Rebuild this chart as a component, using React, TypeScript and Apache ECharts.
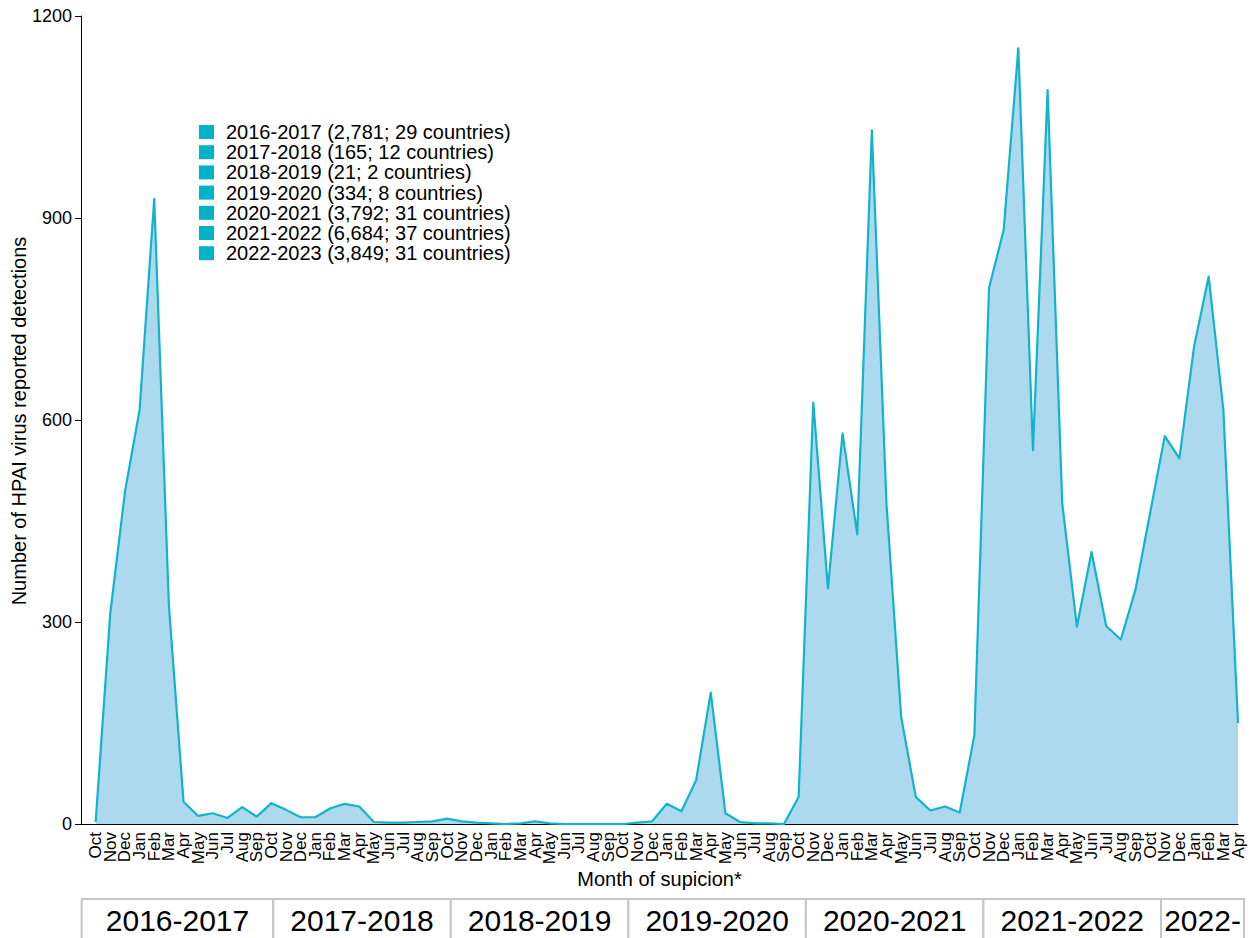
import React, { useEffect, useRef } from "react";
import * as echarts from "echarts";

// Month tick labels (one season: Oct..Sep)
const seasonMonths = ["Oct", "Nov", "Dec", "Jan", "Feb", "Mar", "Apr", "May", "Jun", "Jul", "Aug", "Sep"];

// Monthly HPAI reported detections per epidemiological season
const s2016 = [3, 313, 493, 615, 928, 325, 33, 12, 16, 9, 25, 11];
const s2017 = [31, 21, 10, 10, 23, 30, 26, 3, 2, 2, 3, 4];
const s2018 = [8, 4, 2, 1, 0, 1, 4, 1, 0, 0, 0, 0];
const s2019 = [0, 2, 4, 30, 19, 65, 195, 16, 3, 1, 1, 0];
const s2020 = [40, 626, 350, 580, 430, 1030, 475, 159, 40, 20, 26, 17];
const s2021 = [132, 796, 882, 1152, 555, 1090, 476, 293, 404, 294, 274, 348];
const s2022 = [462, 576, 543, 709, 813, 615, 150];

const seasonNames = [
  "2016-2017 (2,781; 29 countries)",
  "2017-2018 (165; 12 countries)",
  "2018-2019 (21; 2 countries)",
  "2019-2020 (334; 8 countries)",
  "2020-2021 (3,792; 31 countries)",
  "2021-2022 (6,684; 37 countries)",
  "2022-2023 (3,849; 31 countries)",
];

const tableLabels = ["2016-2017", "2017-2018", "2018-2019", "2019-2020", "2020-2021", "2021-2022", "2022-"];

const yTicks = [0, 300, 600, 900, 1200];

const FONT = "'Liberation Sans', Arial, Helvetica, sans-serif";
const LINE = "#12b4cb";
const FILL = "#add9ee";
const KEY = "#00b3c9";

export default function App() {
  const ref = useRef<HTMLDivElement>(null);

  useEffect(() => {
    if (!ref.current) return;
    const chart = echarts.init(ref.current, undefined, { renderer: "svg" });

    const seasons = [s2016, s2017, s2018, s2019, s2020, s2021, s2022];
    // a leading empty slot keeps the first month one step in from the y axis
    const categories: string[] = [""];
    const values: (number | string)[] = ["-"];
    seasons.forEach((s) =>
      s.forEach((v, j) => {
        categories.push(seasonMonths[j]);
        values.push(v);
      })
    );

    // legend entries (one per season)
    const legendSeries = seasonNames.map((name) => ({
      name,
      type: "line",
      data: [],
      color: KEY,
      symbol: "none",
    }));

    const mainSeries = {
      name: "detections",
      type: "line",
      data: values,
      symbol: "none",
      showSymbol: false,
      color: LINE,
      lineStyle: { color: LINE, width: 2.2, join: "round" },
      areaStyle: { color: FILL, opacity: 1 },
      z: 2,
    };

    // table cell borders (decorative table below axis)
    const edges = [81.7, 273.3, 450.8, 628.4, 805.9, 983.4, 1161, 1244];
    const tableTop = 899;
    const graphics: any[] = [];
    tableLabels.forEach((lab, i) => {
      graphics.push({
        type: "rect",
        shape: { x: edges[i], y: tableTop, width: edges[i + 1] - edges[i], height: 80 },
        style: { fill: "#fff", stroke: "#c6c6c6", lineWidth: 2 },
        z: 10,
      });
      graphics.push({
        type: "text",
        x: (edges[i] + edges[i + 1]) / 2,
        y: 920,
        style: {
          text: lab,
          font: `30px ${FONT}`,
          fill: "#000",
          align: "center",
          verticalAlign: "middle",
        },
        z: 11,
      });
    });
    graphics.push({
      type: "text",
      x: 19,
      y: 421,
      rotation: Math.PI / 2,
      style: {
        text: "Number of HPAI virus reported detections",
        font: `20px ${FONT}`,
        fill: "#000",
        align: "center",
        verticalAlign: "middle",
      },
    });
    graphics.push({
      type: "text",
      x: 659.5,
      y: 879,
      style: {
        text: "Month of supicion*",
        font: `20px ${FONT}`,
        fill: "#000",
        align: "center",
        verticalAlign: "middle",
      },
    });

    chart.setOption({
      animation: false,
      backgroundColor: "#fff",
      grid: { left: 81, right: 17, top: 16, bottom: 114, containLabel: false },
      legend: {
        show: true,
        orient: "vertical",
        left: 199,
        top: 122,
        padding: 0,
        icon: "rect",
        itemWidth: 15,
        itemHeight: 14,
        itemGap: 0.2,
        selectedMode: false,
        itemStyle: { color: KEY },
        textStyle: {
          fontFamily: FONT,
          fontSize: 20,
          lineHeight: 20,
          color: "#000",
          padding: [0, 0, 0, 7],
        },
        data: seasonNames,
      },
      xAxis: {
        type: "category",
        data: categories,
        boundaryGap: false,
        splitLine: { show: false },
        axisTick: { show: false },
        axisLine: { show: true, onZero: false, lineStyle: { color: "#000", width: 1 } },
        axisLabel: {
          interval: 0,
          rotate: 90,
          margin: 8,
          fontFamily: FONT,
          fontSize: 17,
          color: "#000",
        },
      },
      yAxis: {
        type: "value",
        min: yTicks[0],
        max: yTicks[yTicks.length - 1],
        interval: yTicks[1] - yTicks[0],
        splitLine: { show: false },
        axisLine: { show: true, onZero: false, lineStyle: { color: "#000", width: 1 } },
        axisTick: { show: true, length: 6, lineStyle: { color: "#000" } },
        axisLabel: {
          fontFamily: FONT,
          fontSize: 18,
          color: "#000",
          margin: 9,
          formatter: (v: number) => String(v),
        },
      },
      graphic: graphics,
      series: [mainSeries, ...legendSeries],
    });

    return () => chart.dispose();
  }, []);

  return (
    <div
      ref={ref}
      style={{ position: "fixed", left: 0, top: 0, width: 1255, height: 938, background: "#fff" }}
    />
  );
}
